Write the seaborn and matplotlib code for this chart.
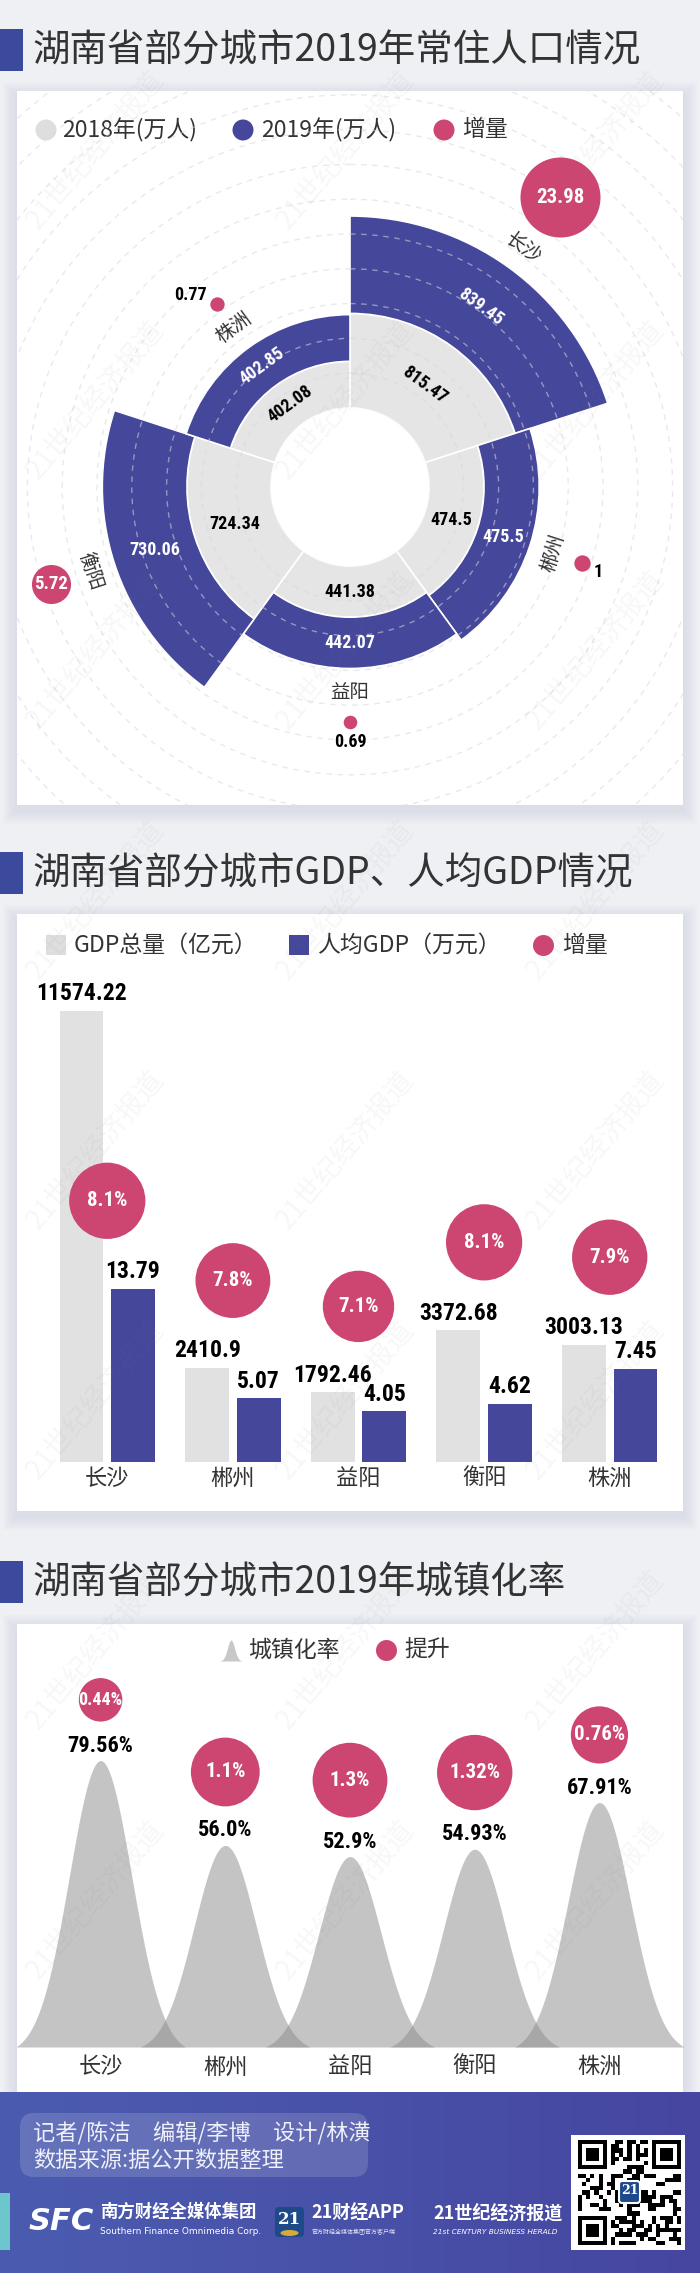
import hashlib
import numpy as np
import pandas as pd
import seaborn as sns
import matplotlib
matplotlib.use('Agg')
from matplotlib import pyplot as plt
from matplotlib import font_manager
from matplotlib.colors import LinearSegmentedColormap
from matplotlib.patches import Rectangle, FancyBboxPatch, Ellipse

pop_cities = ['长沙', '郴州', '益阳', '衡阳', '株洲']
pop_2018 = [815.47, 474.5, 441.38, 724.34, 402.08]
pop_2019 = [839.45, 475.5, 442.07, 730.06, 402.85]
pop_increase = [23.98, 1, 0.69, 5.72, 0.77]

gdp_cities = ['长沙', '郴州', '益阳', '衡阳', '株洲']
gdp_total = [11574.22, 2410.9, 1792.46, 3372.68, 3003.13]
gdp_per_capita = [13.79, 5.07, 4.05, 4.62, 7.45]
gdp_growth = [8.1, 7.8, 7.1, 8.1, 7.9]

urban_cities = ['长沙', '郴州', '益阳', '衡阳', '株洲']
urban_rate = [79.56, 56.0, 52.9, 54.93, 67.91]
urban_rise = [0.44, 1.1, 1.3, 1.32, 0.76]

titles = ['湖南省部分城市2019年常住人口情况', '湖南省部分城市GDP、人均GDP情况', '湖南省部分城市2019年城镇化率']
legend_pop = ['2018年(万人)', '2019年(万人)', '增量']
legend_gdp = ['GDP总量（亿元）', '人均GDP（万元）', '增量']
legend_urban = ['城镇化率', '提升']
credits = ['记者/陈洁\u3000编辑/李博\u3000设计/林潢', '数据来源:据公开数据整理']

W, H, DPI = 700, 2273, 100
BLUE = '#45479b'
GRAY = '#e5e5e5'
PINK = '#cd4671'
TXT = '#333333'

sns.set_theme(style='white')
plt.rcParams['font.family'] = ['Noto Sans CJK SC', 'DejaVu Sans']
names = {f.name for f in font_manager.fontManager.ttflist}
NUM = next((n for n in ['Liberation Sans Narrow', 'DejaVu Sans Condensed', 'Roboto Condensed',
                        'Liberation Sans'] if n in names), 'DejaVu Sans')


def fb(x0, y0, x1, y1):
    # pixel box (top-left origin) -> figure fraction rect
    return [x0 / W, 1 - y1 / H, (x1 - x0) / W, (y1 - y0) / H]


def pt(px):
    return px * 72 / DPI


fig = plt.figure(figsize=(W / DPI, H / DPI), dpi=DPI)
fig.patch.set_facecolor('#eef0f4')
bg = fig.add_axes([0, 0, 1, 1], zorder=0)
bg.axis('off')

# cards with a soft shadow
cards = [(17, 91, 683, 805), (17, 914, 683, 1511), (17, 1624, 683, 2092)]
card_patches = []
for x0, y0, x1, y1 in cards:
    for d in range(2, 16, 2):
        bg.add_patch(Rectangle((x0 - d, y0 - d + 5), x1 - x0 + 2 * d, y1 - y0 + 2 * d,
                               fc='#8a8fa3', alpha=0.022, lw=0))
    p = Rectangle((x0, y0), x1 - x0, y1 - y0, fc='white', lw=0)
    bg.add_patch(p)
    card_patches.append(p)

for t, y in zip(titles, [50, 873, 1582]):
    bg.add_patch(Rectangle((0, y - 21), 23, 42, fc='#3c4a9e', lw=0))
    bg.text(33, y + 1, t, fontsize=27, color=TXT, va='center', ha='left')

# legends
dot = (2 * 10.5 * 0.72) ** 2
bg.scatter([46, 243, 444], [130] * 3, s=dot, c=['#dedede', BLUE, PINK], lw=0)
for x, t in zip([62, 261, 462], legend_pop):
    bg.text(x, 130, t, fontsize=16.5, color=TXT, va='center')

bg.add_patch(Rectangle((46, 935), 20, 20, fc='#dedede', lw=0))
bg.add_patch(Rectangle((289, 935), 20, 20, fc=BLUE, lw=0))
bg.scatter([543], [945], s=dot, c=PINK, lw=0)
for x, t in zip([74, 317, 562], legend_gdp):
    bg.text(x, 945, t, fontsize=16.5, color=TXT, va='center')

ix = np.linspace(-1, 1, 60)
bg.fill_between(231 + 12 * ix, 1661, 1661 - 21 * np.exp(-ix ** 2 / 0.18), color='#c8c8c8', lw=0)
bg.scatter([386], [1650], s=dot, c=PINK, lw=0)
for x, t in zip([248, 404], legend_urban):
    bg.text(x, 1650, t, fontsize=16.5, color=TXT, va='center')

# ---------------- population: polar stacked bars ----------------
K, HOLE, R = 0.116, 79, 520
cx, cy = 350, 487
pax = fig.add_axes(fb(cx - R, cy - R, cx + R, cy + R), projection='polar', zorder=2)
pax.patch.set_alpha(0)
pax.set_theta_zero_location('N')
pax.set_theta_direction(-1)
rorig = -HOLE / K
pax.set_rorigin(rorig)
pax.set_ylim(0, rorig + R / K)

theta = np.deg2rad(36 + 72 * np.arange(len(pop_cities)))
wid = np.deg2rad(72)
tot = np.array(pop_2018) + np.array(pop_2019)
pax.bar(theta, pop_2018, width=wid, bottom=0, color=GRAY, edgecolor='white', linewidth=1.2)
pax.bar(theta, pop_2019, width=wid, bottom=pop_2018, color=BLUE, edgecolor='white', linewidth=1.2)

pax.set_xticks([])
pax.set_yticks(np.arange(300, 3700, 300))
pax.set_yticklabels([])
pax.tick_params(length=0)
pax.yaxis.grid(True, color='#d8d8de', alpha=0.55, linestyle=(0, (4, 4)), linewidth=1)
pax.set_axisbelow(False)
pax.yaxis.set_clip_path(card_patches[0])
# polar draw() toggles spine visibility itself, so make them invisible by width
for s in pax.spines.values():
    s.set_linewidth(0)
    s.set_edgecolor('none')

deg = np.rad2deg(theta)
for i, city in enumerate(pop_cities):
    d = deg[i]
    flat = -d if d < 90 else (360 - d if d > 270 else 0)
    tang = (-d + 90) % 180 - 90
    pax.text(theta[i], pop_2018[i] / 2, f'{pop_2018[i]}', rotation=flat, rotation_mode='anchor',
             ha='center', va='center', fontsize=13, fontweight='bold', family=NUM, color='black')
    pax.text(theta[i], pop_2018[i] + pop_2019[i] / 2, f'{pop_2019[i]}', rotation=flat,
             rotation_mode='anchor', ha='center', va='center', fontsize=13, fontweight='bold',
             family=NUM, color='white')
    pax.text(theta[i], tot[i] + 25 / K, city, rotation=tang, rotation_mode='anchor',
             ha='center', va='center', fontsize=14, color=TXT)

    rad = 8.17 * np.sqrt(pop_increase[i])
    rb = tot[i] + (47 + rad) / K
    pax.scatter([theta[i]], [rb], s=(2 * pt(rad)) ** 2, color=PINK, lw=0, zorder=4, clip_on=False)
    if rad > 15:
        pax.text(theta[i], rb, f'{pop_increase[i]}', ha='center', va='center', color='white',
                 fontsize=15 if rad > 30 else 13.5, fontweight='bold', family=NUM, zorder=5)
    else:
        sx, sy = np.sin(theta[i]), np.cos(theta[i])
        if abs(sx) < 0.3:
            off, ha = (0, -pt(rad + 13)), 'center'
        else:
            off, ha = (np.sign(sx) * pt(rad + 3), pt(9) * np.sign(sy)), ('left' if sx > 0 else 'right')
        pax.annotate(f'{pop_increase[i]}', (theta[i], rb), xytext=off, textcoords='offset points',
                     ha=ha, va='center', fontsize=13, fontweight='bold', family=NUM, color='black',
                     zorder=5, annotation_clip=False)

# ---------------- GDP: twin-axis grouped bars ----------------
GDP_PX, PC_PX = 0.039, 12.55
gbase, gtop = 1462, 960
ch = gbase - gtop
gax = fig.add_axes(fb(29.75, gtop, 687.25, gbase), zorder=2)
series = ['GDP总量', '人均GDP']
df = pd.DataFrame({
    'city': gdp_cities * 2,
    'series': [series[0]] * 5 + [series[1]] * 5,
    'gdp': gdp_total + [0] * 5,
    'pc': [0] * 5 + gdp_per_capita,
})
kw = dict(data=df, x='city', hue='series', hue_order=series, order=gdp_cities,
          palette=['#e1e1e1', BLUE], width=0.82, gap=0.15, errorbar=None, saturation=1,
          legend=False, linewidth=0)
sns.barplot(y='gdp', ax=gax, **kw)
g2 = gax.twinx()
g2.set_zorder(3)
sns.barplot(y='pc', ax=g2, **kw)
gax.set_ylim(0, ch / GDP_PX)
g2.set_ylim(0, ch / PC_PX)
for a in (gax, g2):
    a.patch.set_alpha(0)
    a.set_yticks([])
    a.set_xlabel('')
    a.set_ylabel('')
    for s in a.spines.values():
        s.set_visible(False)
gax.tick_params(axis='x', length=0, pad=3.5, labelsize=16, labelcolor=TXT)

lab = dict(padding=4, fontsize=17, fontweight='bold', fontfamily=NUM, color='black')
gax.bar_label(gax.containers[0], labels=[f'{v}' for v in gdp_total], **lab)
g2.bar_label(g2.containers[1], labels=[f'{v}' for v in gdp_per_capita], **lab)

grad = 13.4 * np.sqrt(gdp_growth)
gdp_px = np.array(gdp_total) * GDP_PX
pc_px = np.array(gdp_per_capita) * PC_PX
base_px = np.where(gdp_px + 50 + 2 * grad < ch - 20, gdp_px, pc_px)
bub_px = base_px + 50 + grad
sns.scatterplot(x=gdp_cities, y=bub_px / PC_PX, s=(2 * pt(grad)) ** 2, color=PINK, linewidth=0,
                ax=g2, legend=False, zorder=5)
for i, v in enumerate(gdp_growth):
    g2.text(i, bub_px[i] / PC_PX, f'{v}%', ha='center', va='center', color='white', fontsize=15,
            fontweight='bold', family=NUM, zorder=6)
g2.set_ylim(0, ch / PC_PX)

# ---------------- urbanisation: mountains ----------------
U_PX = 3.6
ubase, utop = 2047, 1640
uax = fig.add_axes(fb(17, utop, 683, ubase), zorder=2)
uax.patch.set_alpha(0)
xs = np.linspace(-0.68, 0.68, 241)
shape = np.exp(-xs ** 2 / (2 * 0.25 ** 2))
shape = (shape - shape[0]) / (1 - shape[0])
for i, v in enumerate(urban_rate):
    uax.fill_between(i + xs, 0, v * shape, color='#8b8b8b', alpha=0.5, lw=0)
    uax.annotate(f'{v}%', (i, v), xytext=(0, pt(15)), textcoords='offset points', ha='center',
                 va='center', fontsize=16, fontweight='bold', family=NUM, color='black')
urad = 32.8 * np.sqrt(urban_rise)
ub_px = np.array(urban_rate) * U_PX + 39 + urad
sns.scatterplot(x=np.arange(len(urban_cities)), y=ub_px / U_PX, s=(2 * pt(urad)) ** 2,
                color=PINK, linewidth=0, ax=uax, legend=False, zorder=4)
for i, v in enumerate(urban_rise):
    uax.text(i, ub_px[i] / U_PX, f'{v}%', ha='center', va='center', color='white',
             fontsize=13 if urad[i] < 25 else 15, fontweight='bold', family=NUM, zorder=5)
uax.set_xlim(-0.67, 4.67)
uax.set_ylim(0, (ubase - utop) / U_PX)
uax.set_xticks(range(len(urban_cities)), urban_cities)
uax.set_yticks([])
uax.tick_params(axis='x', length=0, pad=6, labelsize=16, labelcolor=TXT)
for s in uax.spines.values():
    s.set_visible(False)

# ---------------- footer ----------------
cmap = LinearSegmentedColormap.from_list('ft', ['#4b5cb0', '#4646a0'])
bg.imshow(np.linspace(0, 1, 256)[None, :], extent=(0, W, H, 2092), cmap=cmap, aspect='auto',
          zorder=1)
bg.add_patch(FancyBboxPatch((20, 2113), 348, 64, boxstyle='round,pad=0,rounding_size=14',
                            fc='white', alpha=0.15, lw=0, zorder=2))
bg.text(33, 2134, credits[0], color='#eef0fa', fontsize=16, va='center', zorder=3)
bg.text(33, 2160, credits[1], color='#eef0fa', fontsize=16, va='center', zorder=3)

bg.add_patch(Rectangle((0, 2193), 10, 57, fc='#6cc6cc', lw=0, zorder=2))
bg.text(29, 2221, 'SFC', fontsize=22, fontweight='heavy', fontstyle='italic', color='white',
        family='DejaVu Sans', va='center', zorder=3)
bg.text(100, 2212, '南方财经全媒体集团', fontsize=12.5, fontweight='bold', color='white',
        va='center', zorder=3)
bg.text(100, 2231, 'Southern Finance Omnimedia Corp.', fontsize=6.5, color='white',
        family='DejaVu Sans', va='center', zorder=3)
bg.add_patch(FancyBboxPatch((275, 2207), 29, 30, boxstyle='round,pad=0,rounding_size=4',
                            fc='#1f4a8a', lw=0, zorder=2))
bg.add_patch(Ellipse((289.5, 2233), 18, 6, fc='#d8a93a', lw=0, zorder=3))
bg.text(289.5, 2219, '21', fontsize=12, fontweight='bold', color='white', family='DejaVu Serif',
        ha='center', va='center', zorder=3)
bg.text(311, 2213, '21财经APP', fontsize=13, fontweight='bold', fontstyle='italic', color='white',
        va='center', zorder=3)
bg.text(312, 2232, '官方财经全媒体集团官方客户端', fontsize=4.3, color='white', alpha=0.85,
        va='center', zorder=3)
bg.text(433, 2213, '21世纪经济报道', fontsize=13, fontweight='bold', color='white',
        va='center', zorder=3)
bg.text(433, 2232, '21st CENTURY BUSINESS HERALD', fontsize=5.3, fontstyle='italic',
        color='white', family='DejaVu Sans', va='center', zorder=3)

# QR-style block
bits = ''.join(format(b, '08b') for j in range(4)
               for b in hashlib.sha256(f'21cbh-{j}'.encode()).digest())
qr = np.array([int(c) for c in bits[:625]]).reshape(25, 25)
finder = np.ones((7, 7))
finder[1:6, 1:6] = 0
finder[2:5, 2:5] = 1
for r0, c0 in [(0, 0), (0, 18), (18, 0)]:
    qr[max(r0 - 1, 0):r0 + 8, max(c0 - 1, 0):c0 + 8] = 0
    qr[r0:r0 + 7, c0:c0 + 7] = finder
bg.add_patch(Rectangle((571, 2135), 114, 115, fc='white', lw=0, zorder=2))
bg.imshow(qr, cmap='gray_r', extent=(578, 681, 2245, 2140), interpolation='nearest', zorder=3)
bg.add_patch(FancyBboxPatch((619, 2181), 21, 22, boxstyle='round,pad=0,rounding_size=3',
                            fc='#1f4a8a', ec='white', lw=1.5, zorder=4))
bg.text(629.5, 2191, '21', fontsize=9, fontweight='bold', color='white', family='DejaVu Serif',
        ha='center', va='center', zorder=5)

bg.set_xlim(0, W)
bg.set_ylim(H, 0)

# watermark
fg = fig.add_axes([0, 0, 1, 1], zorder=20)
fg.axis('off')
fg.patch.set_alpha(0)
fg.set_xlim(0, W)
fg.set_ylim(H, 0)
for wx in [95, 345, 595]:
    for wy in range(150, 2100, 250):
        fg.text(wx, wy, '21世纪经济报道', rotation=50, fontsize=20, color='#7a7a7a', alpha=0.06,
                ha='center', va='center')

fig.savefig('out.png', dpi=DPI)
